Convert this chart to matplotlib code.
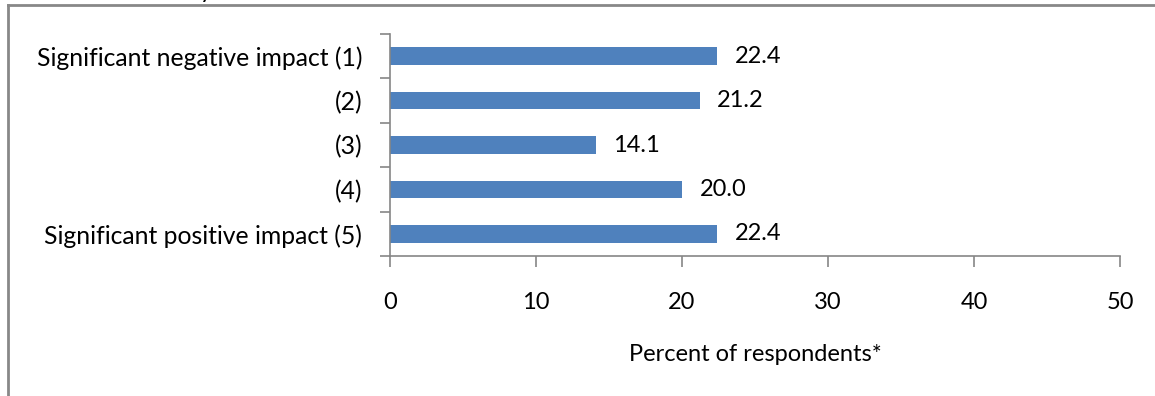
import numpy as np
import matplotlib.pyplot as plt
from matplotlib.lines import Line2D

# data
categories = ["Significant negative impact (1)", "(2)", "(3)", "(4)",
              "Significant positive impact (5)"]
values = [22.4, 21.2, 14.1, 20.0, 22.4]
xticks = [0, 10, 20, 30, 40, 50]
xlabel = "Percent of respondents*"

plt.rcParams['font.family'] = ['Lato', 'DejaVu Sans']
gray = '#868686'
fs = 17

fig = plt.figure(figsize=(11.55, 3.96), dpi=100)
ax = fig.add_axes([390/1155, 1 - 256/396, 730/1155, 222/396])

y = np.arange(len(categories))
ax.barh(y, values, height=0.4, color='#4F81BD')
for yi, v in zip(y, values):
    ax.text(v + 1.2, yi, f"{v:.1f}", va='center', ha='left', fontsize=fs)

ax.set_ylim(len(categories) - 0.5, -0.5)
ax.set_xlim(0, 50)
ax.set_yticks(y)
ax.set_yticklabels(categories, fontsize=17.8)
ax.set_yticks(np.arange(-0.5, len(categories)), minor=True)
ax.tick_params(axis='y', which='major', length=0, pad=20)
ax.tick_params(axis='y', which='minor', length=7, color=gray, width=1.2)
ax.set_xticks(xticks)
ax.tick_params(axis='x', length=8, color=gray, width=1.2, labelsize=fs, pad=18)
ax.set_xlabel(xlabel, fontsize=fs, labelpad=22)

for s in ['top', 'right']:
    ax.spines[s].set_visible(False)
for s in ['left', 'bottom']:
    ax.spines[s].set_color(gray)
    ax.spines[s].set_linewidth(1.2)

# outer chart frame (partly cut off in the original)
fig.add_artist(Line2D([8/1155, 8/1155], [0, 1 - 5/396], transform=fig.transFigure,
                      color='#888888', lw=2))
fig.add_artist(Line2D([8/1155, 1154/1155], [1 - 5/396, 1 - 5/396],
                      transform=fig.transFigure, color='#888888', lw=2))
fig.text(200/1155, 1 + 2/396, "y", fontsize=fs, ha='left', va='baseline')

fig.savefig("out.png", dpi=100)
